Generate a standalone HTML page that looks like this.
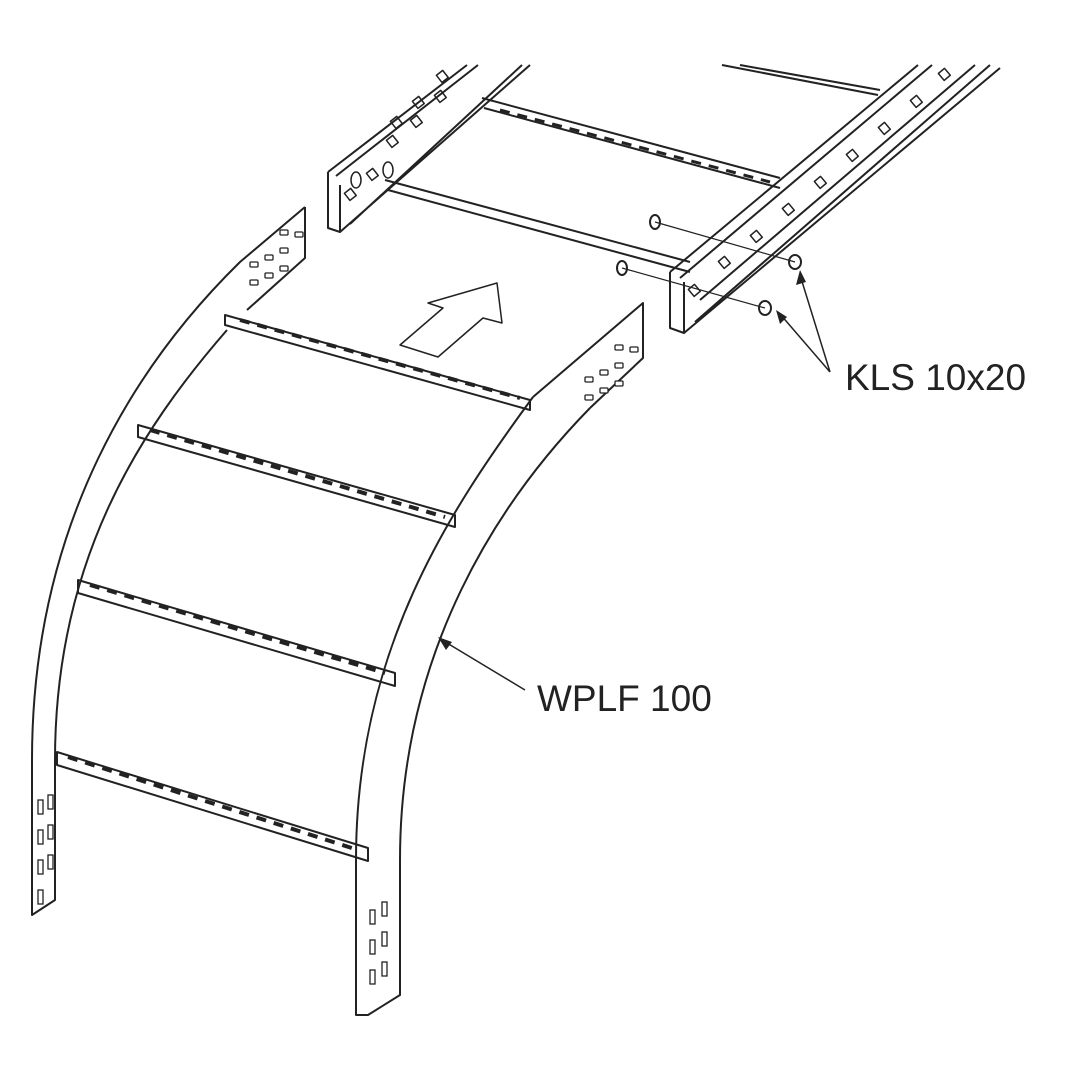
<!DOCTYPE html>
<html><head><meta charset="utf-8"><style>
html,body{margin:0;padding:0;background:#fff;width:1080px;height:1080px;overflow:hidden}
svg{display:block}
text{font-family:"Liberation Sans",sans-serif;fill:#222}
</style></head><body>
<svg width="1080" height="1080" viewBox="0 0 1080 1080" xmlns="http://www.w3.org/2000/svg">
<g fill="none" stroke="#222" stroke-width="2" stroke-linejoin="round">
<!-- straight ladder section (top) -->
<path d="M328,172 L467,65 M336,176 L478,65 M328,172 L328,228 L340,232 L340,185"/>
<path d="M340,232 L530,65 M350,224 L522,65"/>
<path d="M385,180 L690,262 M388,190 L690,272 M482,98 L780,178 M484,108 L780,188"/>
<path d="M670,272 L918,65 M680,278 L932,65 M670,272 L670,328 L684,333 L684,282 M684,333 L1000,68 M695,322 L990,65 M700,300 L975,65"/>
<path d="M722,65 L878,95 M740,65 L880,90"/>
<g stroke-width="1.5">
<rect x="346" y="190" width="8" height="9" transform="rotate(-38 350 194)"/>
<rect x="368" y="170" width="8" height="9" transform="rotate(-38 372 174)"/>
<rect x="392" y="118" width="8" height="9" transform="rotate(-38 396 122)"/>
<rect x="414" y="98" width="8" height="9" transform="rotate(-38 418 102)"/>
<rect x="388" y="137" width="8" height="9" transform="rotate(-38 392 141)"/>
<rect x="412" y="117" width="8" height="9" transform="rotate(-38 416 121)"/>
<rect x="436" y="92" width="8" height="9" transform="rotate(-38 440 96)"/>
<rect x="438" y="72" width="8" height="9" transform="rotate(-38 442 76)"/>
<ellipse cx="356" cy="180" rx="5" ry="8"/><ellipse cx="388" cy="170" rx="5" ry="8"/>
<rect x="690" y="286" width="8" height="9" transform="rotate(-40 694 290)"/>
<rect x="720" y="258" width="8" height="9" transform="rotate(-40 724 262)"/>
<rect x="752" y="232" width="8" height="9" transform="rotate(-40 756 236)"/>
<rect x="784" y="205" width="8" height="9" transform="rotate(-40 788 209)"/>
<rect x="816" y="178" width="8" height="9" transform="rotate(-40 820 182)"/>
<rect x="848" y="151" width="8" height="9" transform="rotate(-40 852 155)"/>
<rect x="880" y="124" width="8" height="9" transform="rotate(-40 884 128)"/>
<rect x="912" y="97" width="8" height="9" transform="rotate(-40 916 101)"/>
<rect x="940" y="70" width="8" height="9" transform="rotate(-40 944 74)"/>
</g>
<!-- bolts -->
<path d="M655,222 L795,262 M622,268 L765,308" stroke-width="1.2"/>
<ellipse cx="655" cy="222" rx="5" ry="7"/><ellipse cx="622" cy="268" rx="5" ry="7"/>
<ellipse cx="795" cy="262" rx="6" ry="7"/><ellipse cx="765" cy="308" rx="6" ry="7"/>
<!-- curved left rail -->
<path d="M305,207 L305,258 L247,310"/>
<path d="M305,207 L240,262 C140,360 32,520 32,760 L32,915 L55,900 L55,760 C55,560 140,430 227,330"/>
<!-- curved right rail -->
<path d="M533,397 L643,303 L643,358 L590,408"/>
<path d="M533,397 C450,510 356,650 356,860 L356,1015 L368,1015 L400,995 L400,860 C400,650 500,500 590,408"/>
<!-- rungs -->
<path d="M225,315 L530,400 L530,410 L225,325 Z"/>
<path d="M138,425 L455,515 L455,527 L138,437 Z"/>
<path d="M78,580 L395,673 L395,686 L78,593 Z"/>
<path d="M57,752 L368,848 L368,861 L57,765 Z"/>
<!-- arrow -->
<path d="M400,345 L443,308 L428,303 L497,283 L502,323 L483,318 L438,357 Z" stroke-width="1.5"/>
<!-- leaders -->
<path d="M830,372 L800,275 M830,372 L780,314 M525,690 L442,640" stroke-width="1.5"/>
</g>
<g fill="#222">
<path d="M800,270 L796,285 L806,282 Z"/><path d="M776,310 L780,324 L787,317 Z"/>
<path d="M438,637 L452,642 L446,650 Z"/>
</g>
<!-- slots -->
<g fill="#fff" stroke="#222" stroke-width="1.3">
<g id="s1"><rect x="250" y="262" width="8" height="5" rx="1"/><rect x="265" y="255" width="8" height="5" rx="1"/><rect x="280" y="248" width="8" height="5" rx="1"/><rect x="250" y="280" width="8" height="5" rx="1"/><rect x="265" y="273" width="8" height="5" rx="1"/><rect x="280" y="266" width="8" height="5" rx="1"/><rect x="295" y="232" width="8" height="5" rx="1"/><rect x="280" y="230" width="8" height="5" rx="1"/></g>
<use href="#s1" transform="translate(335,115)"/>
<rect x="38" y="800" width="5" height="14"/><rect x="48" y="795" width="5" height="14"/>
<rect x="38" y="830" width="5" height="14"/><rect x="48" y="825" width="5" height="14"/>
<rect x="38" y="860" width="5" height="14"/><rect x="48" y="855" width="5" height="14"/>
<rect x="38" y="890" width="5" height="14"/>
<rect x="370" y="910" width="5" height="14"/><rect x="382" y="902" width="5" height="14"/>
<rect x="370" y="940" width="5" height="14"/><rect x="382" y="932" width="5" height="14"/>
<rect x="370" y="970" width="5" height="14"/><rect x="382" y="962" width="5" height="14"/>
</g>
<g stroke="#222" stroke-width="4" stroke-dasharray="10,8">
<path d="M240,320 L520,398"/><path d="M150,430 L445,517"/>
<path d="M90,585 L385,673"/><path d="M68,757 L358,850"/>
<path d="M500,110 L770,182" stroke-width="3"/>
</g>
<text x="845" y="390" font-size="37">KLS 10x20</text>
<text x="537" y="711" font-size="37">WPLF 100</text>
</svg>
</body></html>
